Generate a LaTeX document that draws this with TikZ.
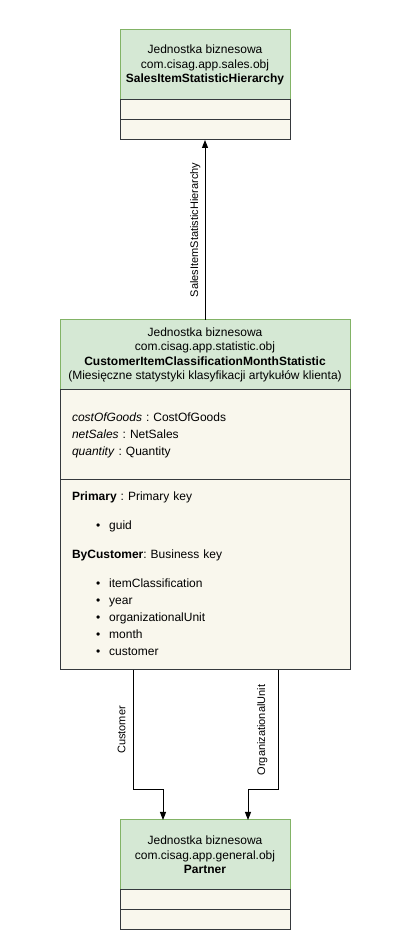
\documentclass[tikz,border=0pt]{standalone}
\usepackage{fontspec}
\setmainfont{Liberation Sans}
\usetikzlibrary{arrows.meta, positioning}
\frenchspacing
\definecolor{headgreen}{HTML}{D5E8D4}
\definecolor{headline}{HTML}{82B366}
\definecolor{bodycream}{HTML}{F9F7ED}
\definecolor{bodyline}{HTML}{36393D}
\tikzset{
    headbox/.style={rectangle, draw=headline, fill=headgreen, line width=1pt, outer sep=0pt, inner xsep=2pt, minimum height=70pt, align=center, font=\fontsize{12}{14.5}\selectfont},
    compbox/.style={rectangle, draw=bodyline, fill=bodycream, line width=1pt, outer sep=0pt, inner sep=0pt, minimum width=170pt, minimum height=20pt},
    listbox/.style={compbox, minimum width=290pt, text width=266pt, inner xsep=12pt, align=left, font=\fontsize{12}{17}\selectfont},
    arrow/.style={-{Triangle[length=8pt, width=6pt]}, line width=1pt, draw=black},
    edgelabel/.style={rotate=90, anchor=south, inner sep=4pt, font=\fontsize{11}{13}\selectfont}
}
\newcommand{\keyitem}[1]{\hspace*{24pt}\textbullet\hspace*{9pt}#1}

\begin{document}
\begin{tikzpicture}[x=1pt, y=1pt, node distance=0pt]
        \useasboundingbox (0,0) rectangle (410,950);
        % SalesItemStatisticHierarchy
        \node[headbox, minimum width=170pt] (saleshead) at (205,885) {Jednostka biznesowa\\com.cisag.app.sales.obj\\\textbf{SalesItemStatisticHierarchy}};
        \node[compbox, below=of saleshead] (salesattr) {};
        \node[compbox, below=of salesattr] (salesops) {};
        % CustomerItemClassificationMonthStatistic
        \node[headbox, minimum width=290pt] (stathead) at (205,595) {Jednostka biznesowa\\com.cisag.app.statistic.obj\\\textbf{CustomerItemClassificationMonthStatistic}\\(Miesięczne statystyki klasyfikacji artykułów klienta)};
        \node[listbox, minimum height=90pt, below=of stathead] (statattr) {\textit{costOfGoods} : CostOfGoods\\\textit{netSales} : NetSales\\\textit{quantity} : Quantity};
        \node[listbox, minimum height=190pt, below=of statattr] (statkeys) {\textbf{Primary} : Primary key\\[12pt]
            \keyitem{guid}\\[12pt]
            \textbf{ByCustomer}: Business key\\[12pt]
            \keyitem{itemClassification}\\
            \keyitem{year}\\
            \keyitem{organizationalUnit}\\
            \keyitem{month}\\
            \keyitem{customer}\vspace{3pt}};
        % Partner
        \node[headbox, minimum width=170pt] (partnerhead) at (205,95) {Jednostka biznesowa\\com.cisag.app.general.obj\\\textbf{Partner}};
        \node[compbox, below=of partnerhead] (partnerattr) {};
        \node[compbox, below=of partnerattr] (partnerops) {};
        % references
        \draw[arrow] (stathead) -- node[edgelabel] {SalesItemStatisticHierarchy} (salesops);
        \draw[arrow] ([xshift=-72pt]statkeys.south) -- node[edgelabel, inner ysep=7pt] {Customer} ++(0,-120) -| ([xshift=-42pt]partnerhead.north);
        \draw[arrow] ([xshift=73pt]statkeys.south) -- node[edgelabel, inner ysep=10pt] {OrganizationalUnit} ++(0,-120) -| ([xshift=43pt]partnerhead.north);
    \end{tikzpicture}
\end{document}
